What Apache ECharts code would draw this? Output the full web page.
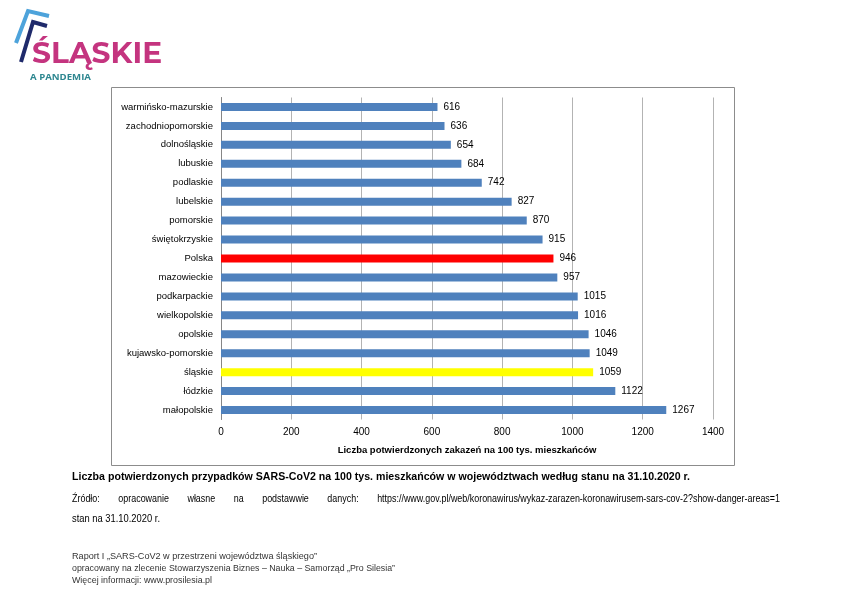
<!DOCTYPE html>
<html><head><meta charset="utf-8">
<script src="https://cdn.jsdelivr.net/npm/echarts@6/dist/echarts.min.js"></script>
<style>html,body{margin:0;padding:0;background:#fff}#c{width:852px;height:603px}</style>
</head><body><div id="c"></div>
<script>
const categories = ["warmińsko-mazurskie","zachodniopomorskie","dolnośląskie","lubuskie","podlaskie","lubelskie","pomorskie","świętokrzyskie","Polska","mazowieckie","podkarpackie","wielkopolskie","opolskie","kujawsko-pomorskie","śląskie","łódzkie","małopolskie"];
const values = [616,636,654,684,742,827,870,915,946,957,1015,1016,1046,1049,1059,1122,1267];
const highlight = {"Polska":"#FF0000","śląskie":"#FFFF00"};
const xTicks = [0,200,400,600,800,1000,1200,1400];
const sourceWords = ["Źródło:","opracowanie","własne","na","podstawwie","danych:","https://www.gov.pl/web/koronawirus/wykaz-zarazen-koronawirusem-sars-cov-2?show-danger-areas=1"];

const F = '"Liberation Sans",Arial,sans-serif';
const ctx = document.createElement('canvas').getContext('2d');
function fit(text, x, y, w, size, weight, color, family){
  family = family || F;
  const font = (weight||'normal') + ' ' + size + 'px ' + family;
  ctx.font = font;
  const mw = ctx.measureText(text).width;
  const s = w / mw;
  return {type:'text', x:x, y:y, scaleX:s, originX:0, originY:0,
    style:{text:text, x:0, y:0, verticalAlign:'middle', font:font, fill:color||'#000'}};
}
// justified source line
function justify(words, x0, x1, y, size, sx){
  const font = 'normal ' + size + 'px ' + F;
  ctx.font = font;
  const ws = words.map(w => ctx.measureText(w).width * sx);
  const total = ws.reduce((a,b)=>a+b,0);
  const gap = (x1 - x0 - total) / (words.length - 1);
  let x = x0;
  return words.map((w,i)=>{
    const el = {type:'text', x:x, y:y, scaleX:sx, originX:0, originY:0,
      style:{text:w, x:0, y:0, verticalAlign:'middle', font:font, fill:'#000'}};
    x += ws[i] + gap;
    return el;
  });
}

const chart = echarts.init(document.getElementById('c'));
chart.setOption({
  animation:false,
  backgroundColor:'#fff',
  grid:{left:221,right:139,top:97.5,bottom:183.5},
  xAxis:{type:'value',min:xTicks[0],max:xTicks[xTicks.length-1],interval:200,
    axisLine:{show:false},axisTick:{show:false},
    splitLine:{lineStyle:{color:'#B3B3B3',width:1}},
    axisLabel:{fontFamily:F,fontSize:10,color:'#000',margin:8,formatter:v=>String(v)},
    name:'Liczba potwierdzonych zakazeń na 100 tys. mieszkańców',nameLocation:'middle',nameGap:26,
    nameTextStyle:{fontFamily:F,fontSize:9.5,fontWeight:'bold',color:'#000'}},
  yAxis:{type:'category',data:categories,inverse:true,
    axisLine:{lineStyle:{color:'#868686'}},
    axisTick:{length:4,lineStyle:{color:'#868686'}},
    axisLabel:{fontFamily:F,fontSize:9.5,color:'#000',margin:8}},
  series:[{type:'bar',barWidth:8,
    data:values.map((v,i)=>({value:v,itemStyle:{color:highlight[categories[i]]||'#4F81BD'}})),
    label:{show:true,position:'right',distance:6,fontFamily:F,fontSize:10,color:'#000'}}],
  graphic:[
    {type:'rect',shape:{x:111.5,y:87.5,width:623,height:378},style:{fill:null,stroke:'#8C8C8C',lineWidth:1},z:-1},
    {type:'polyline',shape:{points:[[16,43],[28,11],[49,16]]},style:{stroke:'#4DA3DB',lineWidth:4,fill:null}},
    {type:'polyline',shape:{points:[[21,62],[33,22],[47,26]]},style:{stroke:'#1F2A6B',lineWidth:4,fill:null}},
    fit('ŚLĄSKIE',32,54,130,29,'bold','#C4347F','"Montserrat","Open Sans",sans-serif'),
    fit('A PANDEMIA',30,78,61,8.5,'bold','#2E8790','"Open Sans",sans-serif'),
    fit('Liczba potwierdzonych przypadków SARS-CoV2 na 100 tys. mieszkańców w województwach według stanu na 31.10.2020 r.',72,477,618,11.5,'bold'),
    ...justify(sourceWords,72,780,499,10.5,0.85),
    fit('stan na 31.10.2020 r.',72,519,88,10),
    fit('Raport I „SARS-CoV2 w przestrzeni województwa śląskiego”',72,556,245,9.5,'normal','#333'),
    fit('opracowany na zlecenie Stowarzyszenia Biznes – Nauka – Samorząd „Pro Silesia”',72,568,323,9.5,'normal','#333'),
    fit('Więcej informacji: www.prosilesia.pl',72,580,140,9.5,'normal','#333')
  ]
});
</script></body></html>
